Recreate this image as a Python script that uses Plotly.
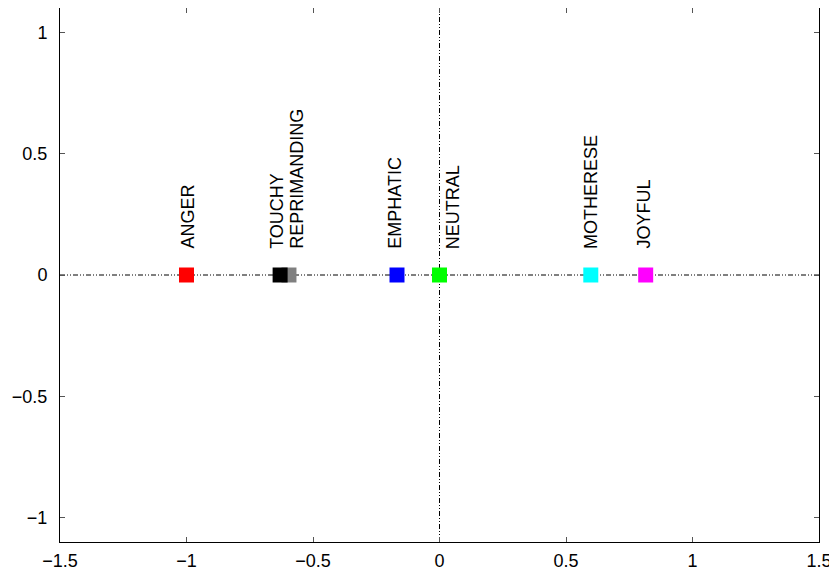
import plotly.graph_objects as go

labels = ["REPRIMANDING", "TOUCHY", "ANGER", "EMPHATIC", "NEUTRAL", "MOTHERESE", "JOYFUL"]
x_vals = [-0.595, -0.63, -1.0, -0.168, 0.0, 0.598, 0.815]
y_vals = [0, 0, 0, 0, 0, 0, 0]
colors = ["#808080", "#000000", "#ff0000", "#0000ff", "#00ff00", "#00ffff", "#ff00ff"]
label_x = [-0.563, -0.642, -0.995, -0.176, 0.051, 0.596, 0.809]
label_y = [0.1, 0.1, 0.1, 0.1, 0.1, 0.1, 0.1]

x_ticks = [-1.5, -1, -0.5, 0, 0.5, 1, 1.5]
x_ticktext = ["\u22121.5", "\u22121", "\u22120.5", "0", "0.5", "1", "1.5"]
y_ticks = [-1, -0.5, 0, 0.5, 1]
y_ticktext = ["\u22121", "\u22120.5", "0", "0.5", "1"]

FONT = "Liberation Sans, Arial, sans-serif"
fs = 18

fig = go.Figure()
dash = "5px,2px,1px,2px,1px,2px"
fig.add_shape(type="line", x0=-1.5, x1=1.5, y0=0, y1=0, xref="x", yref="y",
              line=dict(color="black", width=1, dash=dash), layer="below")
fig.add_shape(type="line", x0=0, x1=0, y0=-1.1, y1=1.1, xref="x", yref="y",
              line=dict(color="black", width=1, dash=dash), layer="below")

for lab, xv, yv, c in zip(labels, x_vals, y_vals, colors):
    fig.add_trace(go.Scatter(x=[xv], y=[yv], mode="markers", name=lab,
                             marker=dict(symbol="square", size=15, color=c,
                                         line=dict(width=0)),
                             showlegend=False, cliponaxis=False))

for lab, lx, ly in zip(labels, label_x, label_y):
    fig.add_annotation(x=lx, y=ly, xref="x", yref="y", text=lab, showarrow=False,
                       textangle=-90, xanchor="center", yanchor="bottom",
                       font=dict(family=FONT, size=fs, color="black"))

fig.update_layout(
    width=829, height=563,
    margin=dict(l=52, r=18, t=0, b=29, autoexpand=False),
    paper_bgcolor="white", plot_bgcolor="white",
    font=dict(family=FONT, size=fs, color="black"),
)
fig.update_xaxes(range=[-1.5, 1.5], tickvals=x_ticks, ticktext=x_ticktext,
                 ticks="inside", ticklen=5, tickcolor="#555", mirror="allticks",
                 showline=True, linecolor="black", linewidth=1, automargin=False,
                 showgrid=False, zeroline=False, ticklabelstandoff=2)
fig.update_yaxes(range=[-1.1, 1.1], tickvals=y_ticks, ticktext=y_ticktext,
                 ticks="inside", ticklen=5, tickcolor="#555", mirror="allticks",
                 showline=True, linecolor="black", linewidth=1, automargin=False,
                 showgrid=False, zeroline=False, ticklabelstandoff=8)

fig.write_html("out.html")
